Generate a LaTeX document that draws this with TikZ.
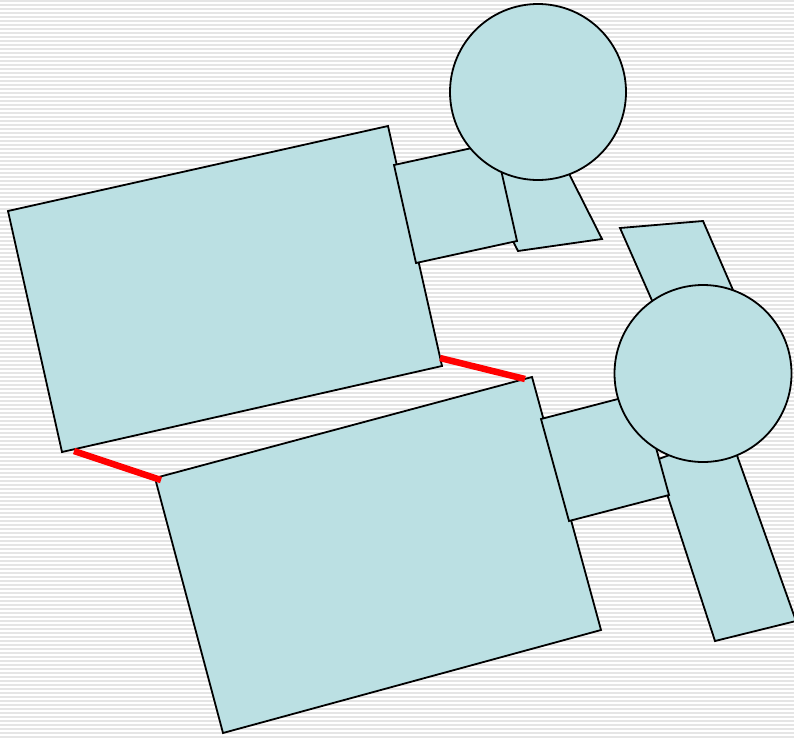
\documentclass[tikz,border=0pt]{standalone}
\begin{document}
\begin{tikzpicture}[x=1pt,y=-1pt,
  part/.style={draw=black,line width=1.8pt,fill=partfill,line join=miter},
  link/.style={draw=red,line width=6.5pt}]
\definecolor{partfill}{RGB}{187,224,227}
\useasboundingbox (0,0) rectangle (794,737);
\clip (0,0) rectangle (794,737);
\fill[white] (0,0) rectangle (794,737);
\foreach \y in {1,5,...,737} \draw[gray!20,line width=2pt] (0,\y) -- (794,\y);
% top group
\draw[part] (8,211) -- (388,126) -- (442,366) -- (62,452) -- cycle;
\draw[part] (472,160) -- (557,150) -- (602,239) -- (518,251) -- cycle;
\draw[part] (394,165) -- (495,143) -- (517,241) -- (416,263) -- cycle;
\draw[part] (538,92) circle[radius=88pt];
% bottom group
\draw[part] (155,478) -- (532,377) -- (601,630) -- (223,733) -- cycle;
\draw[part] (620,228) -- (703,221) -- (746,320) -- (665,330) -- cycle;
\draw[part] (656,460) -- (729,433) -- (796,621) -- (715,641) -- cycle;
\draw[part] (541,419) -- (641,393) -- (669,495) -- (569,521) -- cycle;
\draw[part] (703,373.5) circle[radius=88.5pt];
% links
\coordinate (l1a) at (74,451);
\coordinate (l1b) at (161,480);
\coordinate (l2a) at (440,358);
\coordinate (l2b) at (525,379);
\draw[link] (l1a) -- (l1b);
\draw[link] (l2a) -- (l2b);
\end{tikzpicture}
\end{document}
